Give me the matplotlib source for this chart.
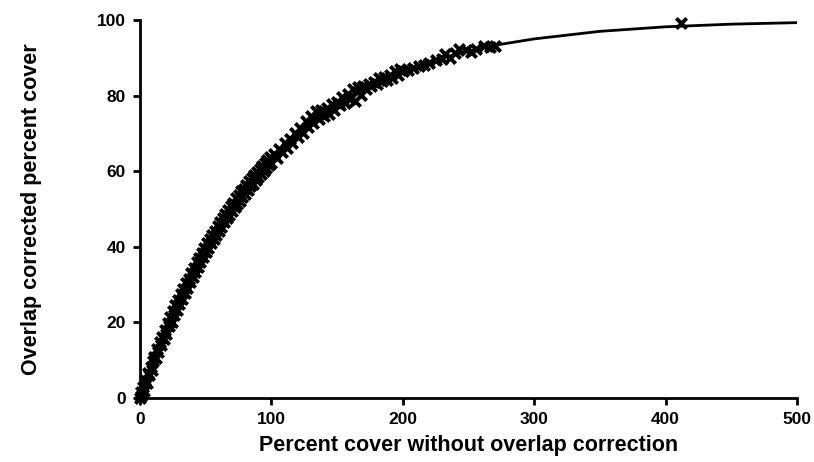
import matplotlib
matplotlib.use("Agg")
import matplotlib.pyplot as plt

plt.rcParams['font.family'] = ['Liberation Sans Narrow', 'Liberation Sans', 'DejaVu Sans']

# fitted curve
curve_x = [0, 10, 20, 30, 40, 50, 60, 70, 80, 90, 100, 120, 140, 160, 180, 200,
           225, 250, 275, 300, 350, 400, 450, 500]
curve_y = [0, 9.5, 18.1, 25.9, 33.0, 39.3, 45.1, 50.3, 55.1, 59.3, 63.2, 69.9, 75.3,
           79.8, 83.5, 86.5, 89.5, 91.8, 93.6, 95.0, 97.0, 98.2, 98.9, 99.3]

# observations
obs_x = [0, 0.5, 1, 2, 3, 4, 5, 6, 7, 8, 9, 10, 11, 12, 13, 14, 15, 16, 17, 18, 19, 20,
         21, 22, 23, 24, 25, 26, 27, 28, 29, 30, 31, 32, 33, 34, 35, 36, 37, 38, 39, 40,
         41, 42, 43, 44, 45, 46, 47, 48, 49, 50, 51, 52, 53, 54, 55, 56, 57, 58, 59, 60,
         61, 62, 63, 64, 65, 66, 67, 68, 69, 70, 71, 72, 73, 74, 75, 76, 77, 78, 79, 80,
         81, 82, 83, 84, 85, 86, 87, 88, 89, 90, 91, 92, 93, 94, 95, 96, 97, 98, 99, 100,
         102, 104, 106, 108, 110, 112, 114, 116, 118, 120, 122, 124, 126, 128, 130, 132,
         134, 136, 138, 140, 142, 144, 146, 148, 150, 152, 154, 156, 158, 160, 162, 164,
         166, 168, 170, 172, 174, 176, 178, 180, 182, 184, 186, 188, 190, 192, 194, 196,
         198, 200, 204, 208, 212, 216, 220, 225, 230, 232, 236, 240, 243, 248, 252, 256,
         262, 266, 270, 412]
obs_y = [0.0, 1.5, 0.5, 2.8, 1.8, 4.8, 3.9, 6.5, 6.0, 8.2, 7.5, 9.8, 10.9, 10.6, 13.0,
         12.3, 14.8, 14.0, 16.2, 15.5, 18.0, 17.0, 19.8, 19.1, 21.3, 20.2, 22.9, 22.0,
         24.5, 23.4, 25.8, 25.0, 27.5, 26.3, 28.9, 27.8, 30.4, 29.2, 31.6, 30.8, 33.2,
         32.1, 34.4, 33.4, 35.9, 34.7, 37.0, 36.1, 38.4, 37.2, 39.6, 38.5, 40.9, 39.8,
         42.0, 41.0, 43.2, 42.1, 44.3, 43.2, 45.5, 44.3, 46.6, 45.3, 47.6, 46.5, 48.7,
         47.5, 49.8, 48.4, 50.8, 49.4, 51.7, 50.5, 52.8, 51.3, 53.6, 52.2, 54.7, 53.2,
         55.4, 54.1, 56.4, 55.0, 57.3, 56.0, 58.2, 56.7, 59.0, 57.6, 59.8, 58.5, 60.7,
         59.2, 61.4, 60.0, 62.3, 60.8, 63.0, 61.6, 63.8, 62.3, 64.5, 63.6, 66.0, 65.0,
         67.5, 66.2, 68.6, 67.4, 70.1, 69.0, 71.3, 70.0, 73.4, 71.6, 74.6, 72.8, 75.8,
         73.7, 76.3, 74.6, 76.8, 75.2, 77.8, 76.2, 78.4, 77.5, 79.6, 78.1, 80.5, 79.0,
         81.8, 78.6, 82.3, 80.2, 82.6, 81.8, 83.1, 82.5, 83.5, 83.0, 84.6, 83.8, 85.0,
         84.1, 85.4, 84.7, 86.6, 85.5, 87.0, 86.4, 86.8, 87.4, 87.8, 88.2, 88.6, 89.3,
         89.8, 91.0, 89.9, 91.2, 92.3, 92.0, 91.6, 92.4, 93.0, 92.8, 93.2, 99.2]

x_ticks = [0, 100, 200, 300, 400, 500]
y_ticks = [0, 20, 40, 60, 80, 100]

fig = plt.figure(figsize=(8.14, 4.62), dpi=100)
ax = fig.add_axes([140/814, 64/462, 657/814, 378/462])

ax.plot(curve_x, curve_y, color='black', lw=2.0, solid_capstyle='round', zorder=2)
ax.scatter(obs_x, obs_y, marker='x', s=55, color='black', linewidths=2.8,
           clip_on=False, zorder=3)

ax.set_xlim(0, 500)
ax.set_ylim(0, 100)
ax.set_xticks(x_ticks)
ax.set_yticks(y_ticks)
for s in ['top', 'right']:
    ax.spines[s].set_visible(False)
for s in ['left', 'bottom']:
    ax.spines[s].set_linewidth(2.0)
ax.tick_params(axis='both', direction='out', length=5, width=2.0,
               labelsize=12.5, pad=5)
for lab in ax.get_xticklabels() + ax.get_yticklabels():
    lab.set_fontweight('bold')

ax.set_xlabel('Percent cover without overlap correction', fontsize=15.5,
              fontweight='bold', labelpad=6)
ax.set_ylabel('Overlap corrected percent cover', fontsize=15.5,
              fontweight='bold', labelpad=40)

fig.savefig('out.png', dpi=100, facecolor='white')
